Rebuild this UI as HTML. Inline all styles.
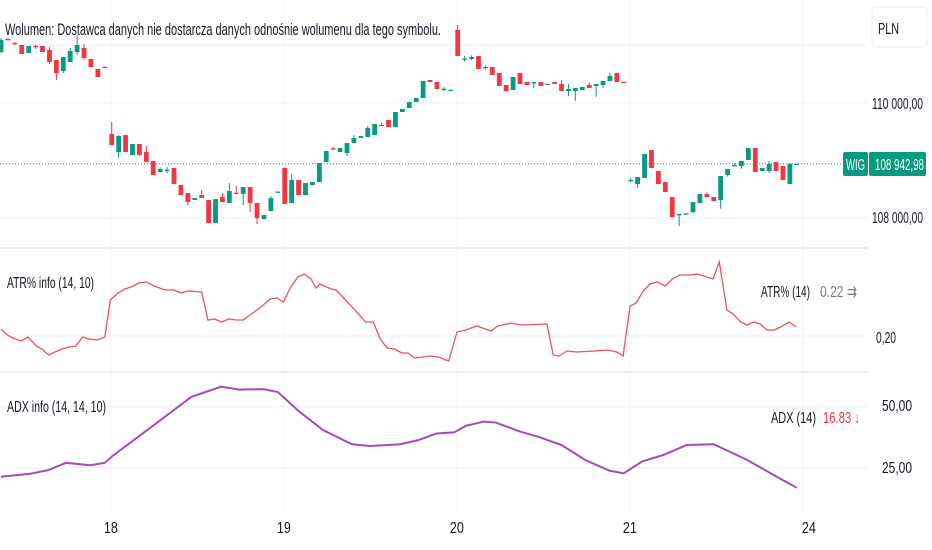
<!DOCTYPE html>
<html><head><meta charset="utf-8"><style>
html,body{margin:0;padding:0;background:#fff;}
svg{display:block;font-family:"Liberation Sans",sans-serif;}
</style></head><body>
<svg id="chart" width="932" height="550" viewBox="0 0 932 550" xmlns="http://www.w3.org/2000/svg">
<g id="grid"></g>
<g id="candles"></g>
<g id="ind"></g>
<g id="labels">
<text x="5" y="35" font-size="16.5" textLength="436" lengthAdjust="spacingAndGlyphs" fill="#131722">Wolumen: Dostawca danych nie dostarcza danych odnośnie wolumenu dla tego symbolu.</text>
<rect x="872" y="7" width="55" height="40" rx="4" fill="#fff" stroke="#eceef2"/>
<text x="878" y="34" font-size="16" textLength="21" lengthAdjust="spacingAndGlyphs" fill="#131722">PLN</text>
<text x="7" y="288" font-size="16" textLength="87" lengthAdjust="spacingAndGlyphs" fill="#131722">ATR% info (14, 10)</text>
<text x="761" y="297" font-size="16" textLength="49" lengthAdjust="spacingAndGlyphs" fill="#131722">ATR% (14)</text>
<text x="820" y="297" font-size="16" textLength="37" lengthAdjust="spacingAndGlyphs" fill="#787b86">0.22 ⇉</text>
<text x="7" y="412" font-size="16" textLength="99" lengthAdjust="spacingAndGlyphs" fill="#131722">ADX info (14, 14, 10)</text>
<text x="771" y="423" font-size="16" textLength="45" lengthAdjust="spacingAndGlyphs" fill="#131722">ADX (14)</text>
<text x="823" y="423" font-size="16" textLength="37" lengthAdjust="spacingAndGlyphs" fill="#f23645">16.83 ↓</text>
<text x="876" y="343" font-size="16" textLength="20" lengthAdjust="spacingAndGlyphs" fill="#131722">0,20</text>
<text x="882" y="411" font-size="16" textLength="30" lengthAdjust="spacingAndGlyphs" fill="#131722">50,00</text>
<text x="882" y="473" font-size="16" textLength="30" lengthAdjust="spacingAndGlyphs" fill="#131722">25,00</text>
<text x="872" y="109" font-size="16" textLength="51" lengthAdjust="spacingAndGlyphs" fill="#131722">110 000,00</text>
<text x="872" y="223" font-size="16" textLength="51" lengthAdjust="spacingAndGlyphs" fill="#131722">108 000,00</text>
<rect x="843" y="152" width="25" height="24" rx="2" fill="#089981"/>
<text x="846" y="170" font-size="16" textLength="19" lengthAdjust="spacingAndGlyphs" fill="#fff">WIG</text>
<rect x="869" y="152" width="57" height="24" rx="2" fill="#089981"/>
<text x="875" y="170" font-size="16" textLength="49" lengthAdjust="spacingAndGlyphs" fill="#fff">108 942,98</text>
</g>
<g id="xaxis"></g>
</svg>
<script>
// candle data [open, close, high, low]
const candleOpen=[110887,111113,111044,111009,110870,110992,110992,110922,110748,110557,110713,110887,110957,110766,110591,110630,
109460,109147,109443,109095,109287,109147,108991,108799,108830,108869,108573,108434,108312,108399,108312,107912,108364,108260,108440,108416,108538,108260,107981,108121,108450,
108869,108260,108660,108399,108573,108625,108973,109210,109147,109130,109304,109391,109408,109443,109620,109704,109582,109843,109913,110017,110087,110400,110365,110240,110226,
111270,110760,110766,110818,110609,110626,110522,110313,110226,110522,110365,110340,110365,110330,110365,110330,110209,110209,110226,110313,110296,110313,110383,110522,110370,
108650,108590,108695,109182,108817,108625,108364,108060,108060,108103,108260,108416,108364,108312,108747,108904,108904,109008,109217,108817,108817,108973,108904,108590,108943];
const candleClose=[111096,111100,111027,110852,110992,110974,110887,110713,110522,110800,110905,111009,110783,110626,110452,110620,
109269,109426,109147,109287,109095,108973,108747,108851,108840,108590,108399,108277,108347,108347,107912,108329,108277,108469,108430,108538,108260,107999,108051,108347,108460,
108242,108660,108399,108608,108625,108956,109165,109195,109217,109304,109391,109426,109564,109634,109610,109582,109843,109895,110017,110087,110383,110365,110243,110250,110230,
110818,110770,110800,110591,110626,110487,110296,110209,110452,110330,110313,110365,110296,110335,110330,110209,110243,110261,110278,110261,110330,110383,110470,110365,110360,
108660,108712,109112,108869,108590,108451,108016,108070,108080,108277,108416,108364,108295,108730,108851,108921,108991,109217,108799,108869,108938,108817,108660,108943,108943];
const candleHigh=[111131,111130,111060,111009,110992,111020,110992,110974,110748,110800,110957,111183,111027,110766,110591,110630,
109669,109440,109443,109287,109287,109252,108991,108880,108890,108869,108573,108434,108347,108486,108312,108329,108434,108608,108556,108538,108538,108260,108051,108382,108460,
108880,108764,108660,108608,108625,108956,109165,109240,109217,109304,109440,109426,109600,109634,109660,109704,109843,109895,110017,110087,110383,110400,110365,110280,110230,
111357,110820,110830,110818,110650,110626,110522,110313,110452,110522,110365,110365,110365,110335,110365,110400,110330,110261,110278,110360,110330,110383,110520,110522,110370,
108700,108712,109112,109182,108817,108625,108364,108070,108080,108277,108416,108440,108364,108730,108851,108950,108991,109217,109217,108869,108990,108973,108904,108943,108943];
const candleLow=[110870,111090,111010,110852,110870,110940,110887,110678,110400,110522,110713,110835,110748,110626,110452,110620,
109260,109043,109147,109095,109095,108973,108747,108790,108780,108590,108399,108225,108312,108347,107912,107912,108277,108260,108420,108225,108103,107894,107981,108121,108450,
108242,108260,108399,108399,108573,108625,108973,109195,109147,109080,109304,109391,109408,109443,109610,109582,109582,109843,109913,110017,110087,110365,110243,110200,110226,
110818,110720,110740,110591,110580,110487,110296,110190,110226,110330,110313,110260,110296,110330,110330,110209,110120,110040,110226,110261,110110,110260,110383,110365,110360,
108620,108520,108695,108869,108590,108451,108016,107860,108060,108080,108260,108364,108295,108160,108720,108904,108860,109008,108799,108817,108780,108817,108660,108590,108943];
const lastPrice=108943;
const priceTicks=[110000,108000];
// ATR% series: candle index, value
const atrIdx=[0,0.9,1.7,2.9,3.9,5.1,5.9,6.9,7.8,8.8,9.8,10.8,11.8,12.7,13.9,15,15.8,16.9,17.9,18.8,19.9,21,22.1,23.7,25,26,27,29,29.9,30.9,31.9,32.9,34,35,35.8,36.8,37.9,38.9,39.9,40.8,41.8,42.9,43.8,44.8,45.5,46.1,47.7,48.4,49.4,51.4,52.7,53.8,54.8,55.8,56.9,57.9,58.8,59.8,62,63.2,64.7,65.9,67.1,68.8,70.8,71.8,73.8,75.1,78.9,79.8,80.6,81.8,83.1,85.8,87.7,89,89.9,90.9,91.8,92.8,93.8,94.8,96,97,98.1,99.6,100.6,102.9,103.8,104.9,105.8,106.9,107.8,108.8,109.7,110.7,111.8,112.9,113.9,114.9];
const atrVal=[.214,.202,.196,.190,.198,.180,.174,.162,.168,.174,.178,.180,.198,.194,.192,.198,.272,.286,.294,.298,.306,.308,.300,.292,.292,.286,.290,.288,.232,.234,.228,.234,.232,.232,.240,.250,.262,.274,.276,.268,.296,.318,.324,.314,.296,.304,.294,.292,.278,.248,.228,.228,.194,.176,.174,.166,.166,.156,.160,.158,.150,.208,.212,.220,.210,.220,.226,.222,.224,.162,.160,.170,.168,.170,.172,.168,.160,.260,.266,.290,.304,.308,.300,.314,.322,.322,.324,.314,.348,.252,.244,.228,.222,.228,.224,.212,.212,.220,.228,.218];
// ADX series
const adxIdx=[0,4.2,6.8,9.4,12.9,15,16.2,21.4,27.5,31.8,34.4,37.9,40,43.1,46.5,50.7,53.3,57.7,60.3,62.9,65.5,67.2,69.8,71.5,75,77.6,81,84.4,87.9,90,92.6,95.7,99.1,103,107.8,112.1,115];
const adxVal=[21.3,22.5,24,27,26,27,30,41,54,58.2,57,57.2,56,48,40.5,34.6,33.9,34.6,36.3,39,39.5,42.2,43.9,43.5,39.8,37.7,34.3,28.2,23.8,22.7,27.5,30.2,34.3,34.6,28.2,21.3,16.8];
const dayLabels=['18','19','20','21','24'];
const dayStartIdx=[16,41,66,91,116];

const NS='http://www.w3.org/2000/svg';
function mk(tag,attrs,parent){const e=document.createElementNS(NS,tag);for(const k in attrs)e.setAttribute(k,attrs[k]);parent.appendChild(e);return e;}
const xS=i=>1+i*6.92;
const yP=p=>103+(110000-p)*115/2000;
const yA=v=>336-(v-0.20)*500;
const yD=v=>406.7-(v-50)*2.44;

const grid=document.getElementById('grid');
[[45,'#f0f3fa'],[248,'#e0e3eb'],[372,'#e0e3eb'],[336,'#f0f3fa'],[yD(50),'#f0f3fa'],[yD(25),'#f0f3fa']].forEach(([y,c])=>{
 const l=mk('line',{x1:0,x2:868,y1:y,y2:y,stroke:c,'stroke-width':1.2},grid);
 
 
});
priceTicks.forEach(p=>{
 const l=mk('line',{x1:0,x2:868,y1:yP(p),y2:yP(p),stroke:'#f0f3fa','stroke-width':1.2},grid);
 
 
});
dayStartIdx.forEach(i=>{
 const x=xS(i)-0.8;
 const l=mk('line',{x1:x,x2:x,y1:0,y2:512,stroke:'#f0f3fa','stroke-width':1},grid);
 
 
});
const lp=mk('line',{x1:0,x2:843,y1:yP(lastPrice),y2:yP(lastPrice),stroke:'#089981','stroke-width':1,'stroke-dasharray':'1 2'},grid);



const cg=document.getElementById('candles');
for(let i=0;i<candleOpen.length;i++){
 const o=candleOpen[i],c=candleClose[i],h=candleHigh[i],l=candleLow[i];
 const col=c>=o?'#089981':'#f23645';
 const x=xS(i);
 const g=mk('g',{},cg);
 
 
 mk('line',{x1:x,x2:x,y1:yP(h),y2:yP(l),stroke:col,'stroke-width':1},g);
 const top=Math.min(yP(o),yP(c));const hh=Math.max(1.3,Math.abs(yP(o)-yP(c)));
 mk('rect',{x:x-2.4,y:top,width:4.8,height:hh,fill:col},g);
}
const ig=document.getElementById('ind');
const atr=mk('polyline',{points:atrIdx.map((d,k)=>xS(d)+','+yA(atrVal[k])).join(' '),fill:'none',stroke:'#f05060','stroke-width':1.3},ig);


const adx=mk('polyline',{points:adxIdx.map((d,k)=>xS(d)+','+yD(adxVal[k])).join(' '),fill:'none',stroke:'#ab47bc','stroke-width':2},ig);



const xa=document.getElementById('xaxis');
dayLabels.forEach((t,k)=>{
 const x=xS(dayStartIdx[k])-0.8+(k===4?6:0);
 const e=mk('text',{x:x,y:533,'font-size':16,'text-anchor':'middle',fill:'#131722',textLength:t.length*7,lengthAdjust:'spacingAndGlyphs'},xa);
 e.textContent=t;
 
 
});
</script>
</body></html>
